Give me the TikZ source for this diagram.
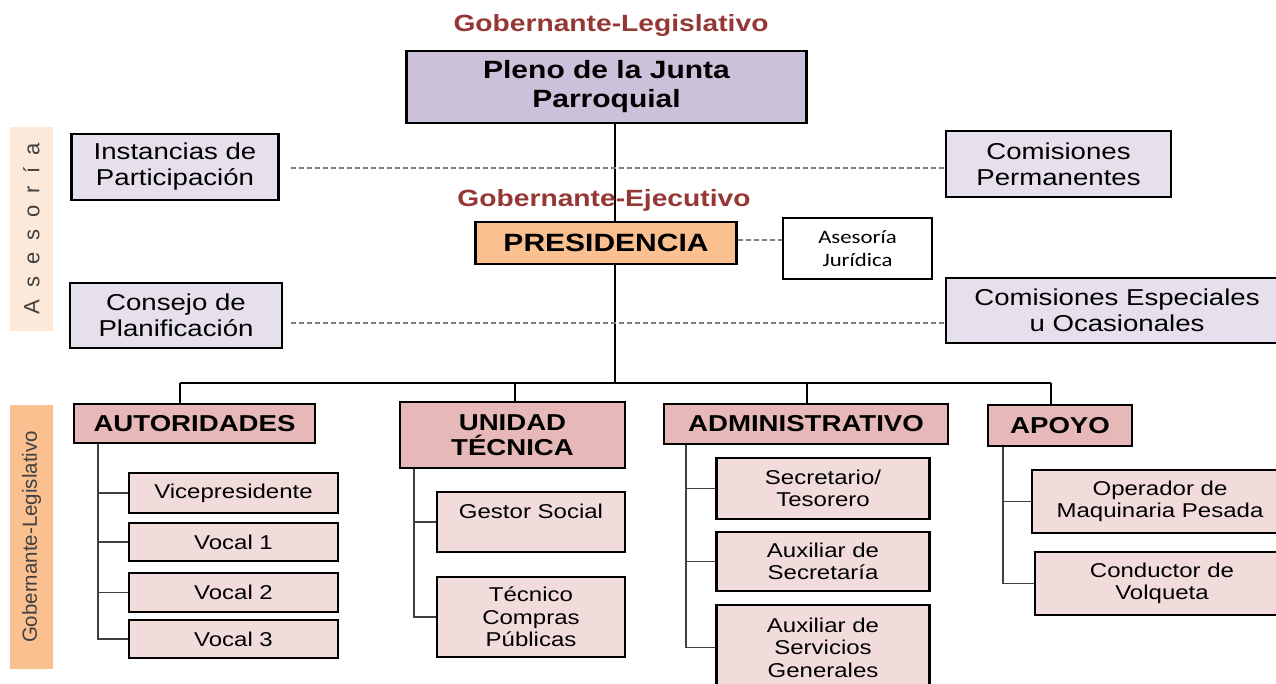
\documentclass[tikz,border=0pt]{standalone}
\usepackage{fontspec}
\setmainfont{Liberation Sans}[FakeStretch=1.2]
\newfontfamily\bandfont{Liberation Sans}
\newfontfamily\calfont{Carlito}[FakeStretch=1.2]
\usetikzlibrary{backgrounds}

\definecolor{titlered}{HTML}{953735}
\definecolor{plenofill}{HTML}{CCC1DA}
\definecolor{lilafill}{HTML}{E5E0EC}
\definecolor{presfill}{HTML}{FAC090}
\definecolor{catfill}{HTML}{E6B9B8}
\definecolor{subfill}{HTML}{F2DCDB}
\definecolor{asfill}{HTML}{FDE9D9}
\definecolor{dashgray}{HTML}{7F7F7F}
\definecolor{spinegray}{HTML}{404040}

\begin{document}
\begin{tikzpicture}[x=1pt,y=-1pt,
  box/.style={draw=black,line width=2.6pt,align=center,inner sep=0pt},
  lila/.style={box,fill=lilafill,font=\fontsize{23}{26}\selectfont},
  cat/.style={box,fill=catfill,font=\bfseries\fontsize{23}{25}\selectfont},
  sub/.style={box,fill=subfill,font=\fontsize{20}{22.5}\selectfont},
  ttl/.style={text=titlered,font=\bfseries\fontsize{23.5}{26}\selectfont},
  band/.style={rotate=90,inner sep=0pt,text=spinegray},
  trunk/.style={line width=2.2pt},
  spine/.style={line width=1.6pt,draw=spinegray},
  dashline/.style={draw=dashgray,line width=1.6pt,dash pattern=on 5pt off 3pt}]

\useasboundingbox (0,0) rectangle (1276,683);
\clip (0,0) rectangle (1276,683);

% side bands
\node[band,fill=asfill,minimum width=204pt,minimum height=43pt] (asband) at (31.5,229)
  {\bandfont\fontsize{22}{26}\selectfont\spaceskip=12pt A s e s o r í a};
\node[band,fill=presfill,minimum width=264pt,minimum height=43pt] (glband) at (31.5,537)
  {\bandfont\fontsize{20.5}{24}\selectfont Gobernante-Legislativo};

% top levels
\node[ttl] (tlegis) at (611,25) {Gobernante-Legislativo};
\node[box,fill=plenofill,minimum width=400pt,minimum height=72pt,
  font=\bfseries\fontsize{25}{29}\selectfont] (pleno) at (606.5,87) {Pleno de la Junta\\Parroquial};
\node[ttl] (tejec) at (604,200) {Gobernante-Ejecutivo};
\node[box,fill=presfill,minimum width=261pt,minimum height=42pt,
  font=\bfseries\fontsize{25}{28}\selectfont] (presid) at (606,243) {PRESIDENCIA};
\node[box,fill=white,minimum width=149pt,minimum height=61pt,
  font=\calfont\fontsize{19}{23}\selectfont] (asesoria) at (857.5,248.5) {Asesoría\\Jurídica};

\node[lila,minimum width=207pt,minimum height=66pt] (instancias) at (175,167) {Instancias de\\Participación};
\node[lila,minimum width=225pt,minimum height=66pt] (comperm) at (1058.5,164) {Comisiones\\Permanentes};
\node[lila,minimum width=212pt,minimum height=65pt] (consejo) at (176,315.5) {Consejo de\\Planificación};
\node[lila,minimum width=342pt,minimum height=65pt] (comesp) at (1117,310.5) {Comisiones Especiales\\u Ocasionales};

% categories
\node[cat,minimum width=241pt,minimum height=39pt] (autor) at (194.5,423.5) {AUTORIDADES};
\node[cat,minimum width=225pt,minimum height=66pt] (unidad) at (512.5,435) {UNIDAD\\TÉCNICA};
\node[cat,minimum width=284pt,minimum height=40pt] (admin) at (806,424) {ADMINISTRATIVO};
\node[cat,minimum width=144pt,minimum height=41pt] (apoyo) at (1060,425.5) {APOYO};

% autoridades
\node[sub,minimum width=209pt,minimum height=40pt] (vice) at (233.5,493) {Vicepresidente};
\node[sub,minimum width=209pt,minimum height=38pt] (vocal1) at (233.5,542) {Vocal 1};
\node[sub,minimum width=209pt,minimum height=39pt] (vocal2) at (233.5,592.5) {Vocal 2};
\node[sub,minimum width=209pt,minimum height=38pt] (vocal3) at (233.5,639) {Vocal 3};

% unidad tecnica
\node[sub,minimum width=188pt,minimum height=60pt] (gestor) at (531,522) {Gestor Social\\\mbox{}};
\node[sub,minimum width=188pt,minimum height=80pt] (tecnico) at (531,617) {Técnico\\Compras\\Públicas};

% administrativo
\node[sub,minimum width=213pt,minimum height=61pt] (secre) at (823,488.5) {Secretario/\\Tesorero};
\node[sub,minimum width=213pt,minimum height=59pt] (auxsec) at (823,561.5) {Auxiliar de\\Secretaría};
\node[sub,minimum width=213pt,minimum height=85pt] (auxserv) at (823,647.5) {Auxiliar de\\Servicios\\Generales};

% apoyo
\node[sub,minimum width=256pt,minimum height=63pt] (operador) at (1160,501.5) {Operador de\\Maquinaria Pesada};
\node[sub,minimum width=254pt,minimum height=63pt] (conductor) at (1162,583.5) {Conductor de\\Volqueta};

\coordinate (trk) at (615,383);
\coordinate (b1) at (180,383);
\coordinate (b2) at (515,383);
\coordinate (b3) at (807,383);
\coordinate (b4) at (1051,383);
\coordinate (sa) at (98,0);
\coordinate (su) at (414,0);
\coordinate (sd) at (686,0);
\coordinate (sp) at (1003,0);

\begin{scope}[on background layer]
\draw[trunk] (pleno.south -| trk) -- (trk);
\draw[trunk] (b1) -- (b4);
\draw[trunk] (b1) -- (b1 |- autor.north);
\draw[trunk] (b2) -- (b2 |- unidad.north);
\draw[trunk] (b3) -- (b3 |- admin.north);
\draw[trunk] (b4) -- (b4 |- apoyo.north);

\draw[dashline] ([xshift=11pt,yshift=-1pt]instancias.east) -- ([yshift=-1pt]instancias.east -| comperm.west);
\draw[dashline] ([yshift=3pt]presid.east) -- ([yshift=3pt]presid.east -| asesoria.west);
\draw[dashline] ([xshift=8pt,yshift=-7.5pt]consejo.east) -- ([yshift=-7.5pt]consejo.east -| comesp.west);

\foreach \n in {vice,vocal1,vocal2,vocal3}
  \draw[spine] (autor.south -| sa) |- (\n.west);
\foreach \n in {gestor,tecnico}
  \draw[spine] (unidad.south -| su) |- (\n.west);
\foreach \n in {secre,auxsec,auxserv}
  \draw[spine] (admin.south -| sd) |- (\n.west);
\foreach \n in {operador,conductor}
  \draw[spine] (apoyo.south -| sp) |- (\n.west);
\end{scope}

\end{tikzpicture}
\end{document}
